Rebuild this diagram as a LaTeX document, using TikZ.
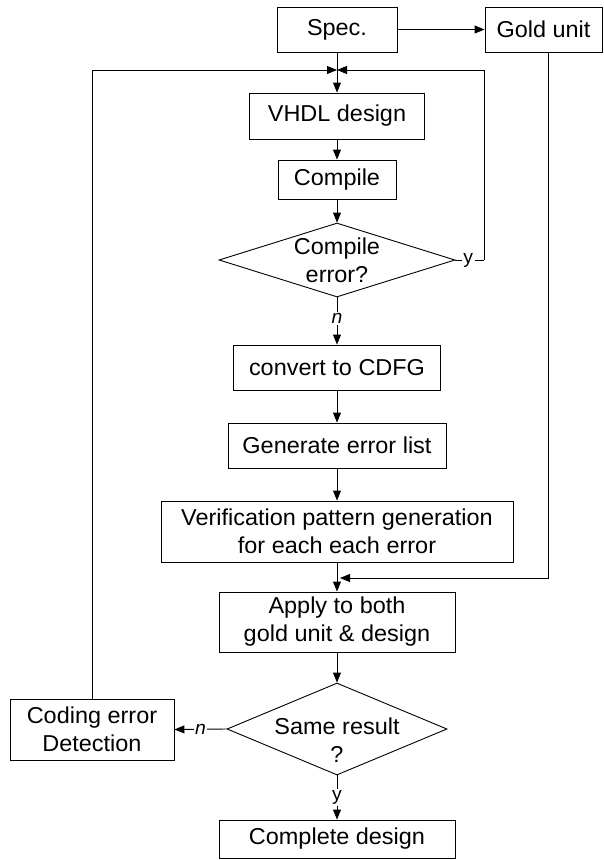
\documentclass[tikz,border=0pt]{standalone}
\usepackage{fontspec}
\setmainfont{Liberation Sans}[FakeStretch=1.02]
\usetikzlibrary{arrows.meta,shapes.geometric}

\begin{document}
\begin{tikzpicture}[x=1pt,y=-1pt,
  line width=0.9pt,
  every node/.style={font=\fontsize{23}{28}\selectfont},
  box/.style={draw, rectangle, inner sep=0pt, align=center},
  dia/.style={draw, diamond, inner sep=0pt},
  lbl/.style={fill=white, inner sep=1.5pt, font=\fontsize{19}{20}\selectfont},
  flow/.style={-{Triangle[length=10pt,width=8pt]}}]

% canvas
\fill[white] (0,0) rectangle (604,860);
\useasboundingbox (0,0) rectangle (604,860);

% process boxes
\node[box, minimum width=120pt, minimum height=45pt] (spec) at (337,29.5) {Spec.};
\node[box, minimum width=117pt, minimum height=45pt] (gold) at (543.5,29.5) {Gold unit};
\node[box, minimum width=175pt, minimum height=46pt] (vhdl) at (337,116) {VHDL design};
\node[box, minimum width=118pt, minimum height=39pt] (comp) at (337,179.5) {Compile};
\node[dia, minimum width=236pt, minimum height=74pt] (d1) at (337,260) {};
\node[align=center] at (d1) {Compile\\error?};
\node[box, minimum width=207pt, minimum height=45pt] (cdfg) at (337,367.5) {convert to CDFG};
\node[box, minimum width=218pt, minimum height=45pt] (gen) at (337,445.5) {Generate error list};
\node[box, minimum width=352pt, minimum height=61pt] (verif) at (337,531.5) {Verification pattern generation\\for each each error};
\node[box, minimum width=236pt, minimum height=60pt] (apply) at (337,622) {Apply to both\\gold unit \& design};
\node[dia, minimum width=220pt, minimum height=92pt] (d2) at (337,729) {};
\node[align=center, anchor=north] at (337,714) {Same result\\?};
\node[box, minimum width=164pt, minimum height=61pt] (code) at (92,729.5) {Coding error\\Detection};
\node[box, minimum width=236pt, minimum height=38pt] (done) at (337,839) {Complete design};

% junction points of the feedback lines
\coordinate (jn) at (337,70);
\coordinate (ycorner) at (484,260);
\coordinate (gcorner) at (548,578);
\coordinate (gtip) at (340,578);

% main flow
\draw[flow] (spec) -- (gold);
\draw[flow] (spec.south) -- (vhdl.north);
\draw[flow] (vhdl) -- (comp);
\draw[flow] (comp) -- (d1.north);
\draw[flow] (d1.south) -- node[lbl, pos=0.45]{\itshape n} (cdfg.north);
\draw[flow] (cdfg) -- (gen);
\draw[flow] (gen) -- (verif);
\draw[flow] (verif) -- (apply);
\draw[flow] (apply) -- (d2.north);
\draw[flow] (d2.south) -- node[lbl]{y} (done.north);
\draw[flow] (d2.west) -- node[lbl]{\itshape n} (code.east);

% feedback loops
\draw (d1.east) -- node[lbl, pos=0.45]{y} (ycorner);
\draw[flow] (ycorner) |- (jn);
\draw[flow] (code.north) |- (jn);
\draw[flow] (gold.south -| gcorner) -- (gcorner) -- (gtip);
\end{tikzpicture}
\end{document}
